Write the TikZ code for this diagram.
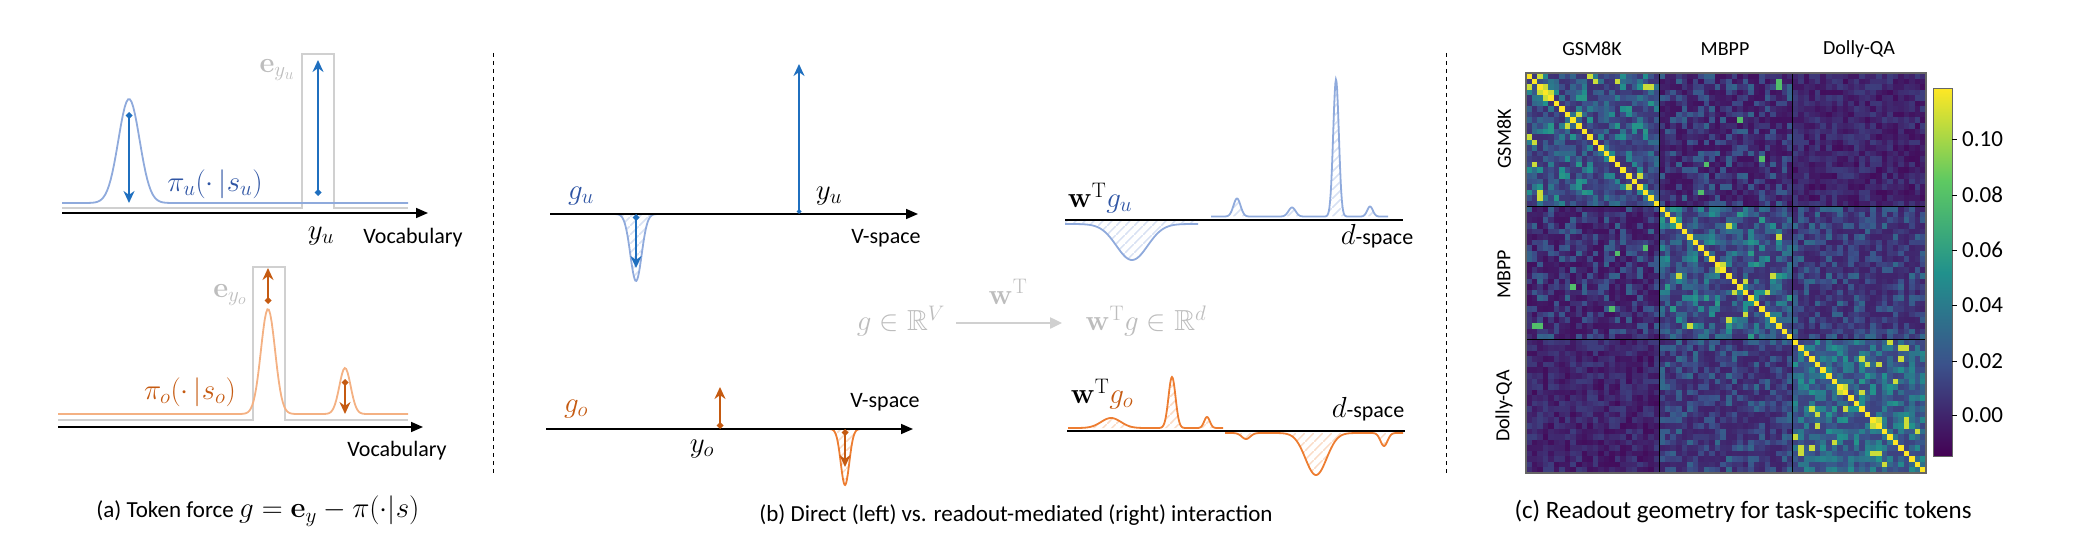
\RequirePackage{fix-cm}
\documentclass[tikz,border=0pt]{standalone}
\usepackage{amsmath,amssymb}
\usepackage[no-math]{fontspec}
\setmainfont{Carlito}
\DeclareMathSizes{22}{29}{21}{16}
\DeclareMathSizes{23}{29}{21}{16}
\usetikzlibrary{arrows.meta,patterns}
\pgfdeclarepatternformonly{widelines}{\pgfpointorigin}{\pgfqpoint{9pt}{9pt}}{\pgfqpoint{9pt}{9pt}}{%
  \pgfsetlinewidth{1.6pt}
  \pgfpathmoveto{\pgfqpoint{-1pt}{-1pt}}\pgfpathlineto{\pgfqpoint{10pt}{10pt}}\pgfusepath{stroke}}
\definecolor{bdark}{HTML}{1F6FBF}
\definecolor{blight}{HTML}{8FAADC}
\definecolor{btext}{HTML}{2F55A4}
\definecolor{odark}{HTML}{C55A11}
\definecolor{olight}{HTML}{F4B183}
\definecolor{omid}{HTML}{ED7D31}
\definecolor{gbox}{HTML}{D0D0D0}
\definecolor{gtxt}{HTML}{BDBDBD}
\definecolor{v0}{HTML}{440154}
\definecolor{v1}{HTML}{3B528B}
\definecolor{v2}{HTML}{21918C}
\definecolor{v3}{HTML}{5EC962}
\definecolor{v4}{HTML}{FDE725}
\begin{document}
\begin{tikzpicture}[x=1pt,y=-1pt,
  lbl/.style={inner sep=0pt,font=\fontsize{22}{26}\selectfont},
  captxt/.style={inner sep=0pt,font=\fontsize{23}{27}\selectfont},
  small/.style={inner sep=0pt,font=\fontsize{20}{23}\selectfont},
  axis/.style={line width=1.6pt,-{Triangle[length=12pt,width=10pt]}},
  force/.style={line width=2.2pt,{Diamond[length=7pt,width=7pt]}-{Stealth[length=12pt,width=11pt]}},
  curve/.style={line width=1.8pt},
  bh/.style={pattern=widelines,pattern color=blight!35},
  oh/.style={pattern=widelines,pattern color=olight!45},
  sep/.style={line width=0.7pt,dash pattern=on 4pt off 4pt}]
\useasboundingbox (0,0) rectangle (2100,559);
% separators
\draw[sep] (493,53) -- (493,473);
\draw[sep] (1446,53) -- (1446,473);

% ---------- panel (a) ----------
\draw[gbox,line width=1.6pt] (62,208) -- (302,208) -- (302,54) -- (334,54) -- (334,208) -- (408,208);
\draw[blight,curve] plot[domain=62:408,samples=200] (\x,{203-104*exp(-((\x-129)/15)^2)});
\draw[axis] (62,213) -- (428,213);
\draw[force,bdark] (129,112) -- (129,203);
\draw[force,bdark] (318,196) -- (318,60);
\node[lbl,gtxt] (eyu) at (277,70) {$\mathbf{e}_{y_u}$};
\node[lbl,btext] (piu) at (215,184) {$\pi_u(\cdot\,|s_u)$};
\node[lbl] (yu) at (321,236) {$y_u$};
\node[lbl] (voc1) at (413,238) {Vocabulary};

\draw[gbox,line width=1.6pt] (58,420) -- (253,420) -- (253,267) -- (285,267) -- (285,420) -- (408,420);
\draw[olight,curve] plot[domain=58:408,samples=250] (\x,{414-105*exp(-((\x-268)/10)^2)-46*exp(-((\x-345)/8)^2)});
\draw[axis] (58,427) -- (423,427);
\draw[force,odark] (268,304) -- (268,268);
\draw[force,odark] (345,379) -- (345,414);
\node[lbl,gtxt] (eyo) at (230,295) {$\mathbf{e}_{y_o}$};
\node[lbl,odark] (pio) at (190,392) {$\pi_o(\cdot\,|s_o)$};
\node[lbl] (voc2) at (397,451) {Vocabulary};
\node[captxt] (capa) at (258,511) {(a) Token force $g=\mathbf{e}_y-\pi(\cdot|s)$};

% ---------- panel (b) ----------
% top left
\fill[bh] plot[domain=609:661,samples=60] (\x,{214+67*exp(-((\x-636)/8)^2)}) -- cycle;
\draw[blight,curve] plot[domain=609:661,samples=60] (\x,{214+67*exp(-((\x-636)/8)^2)});
\draw[axis] (550,214) -- (918,214);
\draw[force,bdark] (636,214) -- (636,268);
\draw[line width=2.2pt,bdark,{Diamond[length=5pt,width=5pt]}-{Stealth[length=12pt,width=11pt]}] (799,214) -- (799,64);
\node[lbl,btext] (gu) at (581,196) {$g_u$};
\node[lbl] (yu2) at (829,196) {$y_u$};
\node[lbl] (vs1) at (886,238) {V-space};
% top right
\fill[bh] plot[domain=1065:1198,samples=80] (\x,{224+36*exp(-((\x-1132)/22)^2)}) -- (1198,220) -- (1065,220) -- cycle;
\draw[blight,curve] plot[domain=1065:1198,samples=80] (\x,{224+36*exp(-((\x-1132)/22)^2)});
\fill[bh] plot[domain=1211:1388,samples=300] (\x,{216.5-18*exp(-((\x-1237)/5)^2)-9*exp(-((\x-1292)/5)^2)-137*exp(-((\x-1336)/4)^2)-10*exp(-((\x-1370)/4)^2)}) -- cycle;
\draw[blight,curve] plot[domain=1211:1388,samples=300] (\x,{216.5-18*exp(-((\x-1237)/5)^2)-9*exp(-((\x-1292)/5)^2)-137*exp(-((\x-1336)/4)^2)-10*exp(-((\x-1370)/4)^2)});
\draw[line width=1.6pt] (1065,220) -- (1403,220);
\node[lbl] (wgu) at (1100,198) {$\mathbf{w}^{\mathrm{T}}\textcolor{btext}{g_u}$};
\node[lbl] (ds1) at (1377,236) {$d$-space};
% middle
\node[lbl,gtxt] (gin) at (901,321) {$g\in\mathbb{R}^V$};
\node[lbl,gtxt] (wgin) at (1146,321) {$\mathbf{w}^{\mathrm{T}}g\in\mathbb{R}^d$};
\draw[gbox,line width=2.4pt,-{Triangle[length=12pt,width=11pt]}] (956,323) coordinate (ga) -- (1062,323) coordinate (gb);
\node[lbl,gtxt] (wt) at (1008,292) {$\mathbf{w}^{\mathrm{T}}$};
% bottom left
\fill[oh] plot[domain=829:863,samples=60] (\x,{429+56*exp(-((\x-845)/6)^2)}) -- cycle;
\draw[omid,curve] plot[domain=829:863,samples=60] (\x,{429+56*exp(-((\x-845)/6)^2)});
\draw[axis] (546,429) -- (913,429);
\draw[force,odark] (720,429) -- (720,387);
\draw[force,odark] (845,429) -- (845,467);
\node[lbl,odark] (go) at (576,409) {$g_o$};
\node[lbl] (yo) at (702,449) {$y_o$};
\node[lbl] (vs2) at (885,402) {V-space};
% bottom right
\fill[oh] plot[domain=1068:1223,samples=250] (\x,{428-10*exp(-((\x-1111)/14)^2)-51*exp(-((\x-1172)/5)^2)-11*exp(-((\x-1207)/4)^2)}) -- cycle;
\draw[omid,curve] plot[domain=1068:1223,samples=250] (\x,{428-10*exp(-((\x-1111)/14)^2)-51*exp(-((\x-1172)/5)^2)-11*exp(-((\x-1207)/4)^2)});
\fill[oh] plot[domain=1225:1403,samples=250] (\x,{433+6*exp(-((\x-1246)/6)^2)+42*exp(-((\x-1316)/15)^2)+13*exp(-((\x-1384)/5)^2)}) -- cycle;
\draw[omid,curve] plot[domain=1225:1403,samples=250] (\x,{433+6*exp(-((\x-1246)/6)^2)+42*exp(-((\x-1316)/15)^2)+13*exp(-((\x-1384)/5)^2)});
\draw[line width=1.6pt] (1067,431) -- (1405,431);
\node[lbl] (wgo) at (1102,394) {$\mathbf{w}^{\mathrm{T}}\textcolor{odark}{g_o}$};
\node[lbl] (ds2) at (1368,409) {$d$-space};
\node[captxt] (capb) at (1016,515) {(b) Direct (left) vs. readout-mediated (right) interaction};

% ---------- panel (c) ----------
\def\cs{5.5556}
\foreach \i in {0,...,71}{
  \foreach \j in {0,...,71}{
    \pgfmathtruncatemacro\a{min(\i,\j)}
    \pgfmathtruncatemacro\b{max(\i,\j)}
    \pgfmathsetmacro\r{frac(abs(sin(\a*12.9898+\b*78.233))*997.31)}
    \pgfmathsetmacro\rr{frac(\r*37.17+\a*0.113)}
    \pgfmathtruncatemacro\bi{\i/24}
    \pgfmathtruncatemacro\bj{\j/24}
    \pgfmathtruncatemacro\bs{\bi+\bj}
    \ifnum\i=\j
      \def\t{1}
    \else\ifnum\bi=\bj
      \ifnum\bi=2
        \pgfmathsetmacro\t{0.2+0.32*\r*\r}
      \else
        \pgfmathsetmacro\t{0.14+0.4*\r*\r}
      \fi
      \ifdim\rr pt>0.965pt \def\t{0.92}\fi
    \else
      \ifcase\bs\or
        \pgfmathsetmacro\t{0.05+0.28*\r*\r}
        \ifdim\rr pt>0.99pt \def\t{0.7}\fi
      \or
        \pgfmathsetmacro\t{0.03+0.16*\r}
      \or
        \pgfmathsetmacro\t{0.1+0.26*\r*\r}
      \fi
    \fi\fi
    \pgfmathtruncatemacro\sg{min(3,int(\t*4))}
    \pgfmathsetmacro\pp{(\t*4-\sg)*100}
    \pgfmathtruncatemacro\sn{\sg+1}
    \colorlet{cc}{v\sn!\pp!v\sg}
    \fill[cc] ({1526+\j*\cs},{73+\i*\cs}) rectangle +(\cs+0.4,\cs+0.4);
  }
}
\draw[line width=1.2pt] (1659.3,73) -- (1659.3,473) (1792.7,73) -- (1792.7,473)
  (1526,206.3) -- (1926,206.3) (1526,339.7) -- (1926,339.7);
\draw[gray!80!black,line width=1.2pt] (1526,73) rectangle (1926,473);
\node[small] (cg) at (1592,49) {GSM8K};
\node[small] (cm) at (1725,49) {MBPP};
\node[small] (cd) at (1859,49) {Dolly-QA};
\node[small,rotate=90] (rg) at (1504,139) {GSM8K};
\node[small,rotate=90] (rm) at (1504,274) {MBPP};
\node[small,rotate=90] (rd) at (1504,406) {Dolly-QA};
% colorbar
\shade[top color=v1,bottom color=v0] (1933,364.25) rectangle (1952,456);
\shade[top color=v2,bottom color=v1] (1933,272.5) rectangle (1952,364.25);
\shade[top color=v3,bottom color=v2] (1933,180.75) rectangle (1952,272.5);
\shade[top color=v4,bottom color=v3] (1933,89) rectangle (1952,180.75);
\draw[gray!80!black,line width=1pt] (1933,89) rectangle (1952,456);
\foreach \v/\y in {0.10/139,0.08/195,0.06/250,0.04/305,0.02/361,0.00/415}{
  \draw[line width=0.8pt] (1952,\y) -- (1957,\y);
  \node[inner sep=0pt,anchor=west,font=\fontsize{23}{27}\selectfont] at (1962,\y) {\v};
}
\node[inner sep=0pt,font=\fontsize{25}{29}\selectfont] (capc) at (1743,511) {(c) Readout geometry for task-specific tokens};
\end{tikzpicture}
\end{document}
